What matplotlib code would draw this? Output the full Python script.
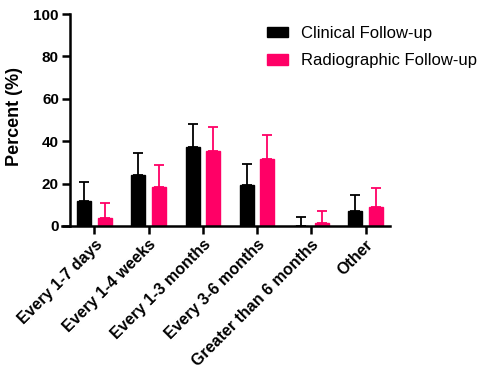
import matplotlib
matplotlib.use("Agg")
import matplotlib.pyplot as plt
import numpy as np

categories = ["Every 1-7 days", "Every 1-4 weeks", "Every 1-3 months",
              "Every 3-6 months", "Greater than 6 months", "Other"]
clinical = [11.8, 24.0, 37.3, 19.2, 0.0, 6.9]
clinical_err = [9.1, 10.4, 11.0, 9.9, 4.3, 7.9]
radiographic = [3.6, 18.4, 35.5, 31.5, 1.2, 9.0]
radiographic_err = [7.2, 10.2, 11.3, 11.3, 5.9, 8.9]
yticks = [0, 20, 40, 60, 80, 100]

plt.rcParams['font.family'] = ['Liberation Sans', 'DejaVu Sans']

fig = plt.figure(figsize=(4.84, 3.71), dpi=100)
ax = fig.add_axes([70/484, 1-226/371, 320/484, 212/371])

x = np.arange(len(categories))
w = 0.26
off = 0.19
black = "#000000"
pink = "#FF0066"

ax.bar(x - off, clinical, w, color=black, edgecolor=black, label="Clinical Follow-up", zorder=2)
ax.bar(x + off, radiographic, w, color=pink, edgecolor=pink, label="Radiographic Follow-up", zorder=2)
ax.errorbar(x - off, clinical, yerr=[np.zeros(len(x)), clinical_err], fmt='none',
            ecolor=black, elinewidth=1.3, capsize=3.5, capthick=1.3, zorder=1)
ax.errorbar(x + off, radiographic, yerr=[np.zeros(len(x)), radiographic_err], fmt='none',
            ecolor=pink, elinewidth=1.3, capsize=3.5, capthick=1.3, zorder=1)

ax.set_xlim(-0.45, len(categories) - 0.55)
ax.set_ylim(0, 100)
ax.set_yticks(yticks)
ax.set_yticklabels([str(v) for v in yticks], fontsize=11, fontweight='bold')
ax.set_xticks(x)
ax.set_xticklabels(categories, rotation=45, ha='right', rotation_mode='anchor',
                   fontsize=11.5, fontweight='bold')
ax.set_ylabel("Percent (%)", fontsize=13, fontweight='bold')
ax.yaxis.set_label_coords(-47/320, 0.515)

for s in ['top', 'right']:
    ax.spines[s].set_visible(False)
for s in ['left', 'bottom']:
    ax.spines[s].set_linewidth(1.8)
ax.spines['bottom'].set_bounds(-0.45 - 8/54.3, len(categories) - 0.55)
ax.tick_params(axis='both', width=1.8, length=6, direction='out', pad=2)

leg = ax.legend(loc='upper left', bbox_to_anchor=(0.594, 0.975), frameon=False,
                fontsize=12, handlelength=1.25, handleheight=0.6, handletextpad=0.8,
                labelspacing=0.75, borderaxespad=0)

fig.savefig("out.png", dpi=100)
